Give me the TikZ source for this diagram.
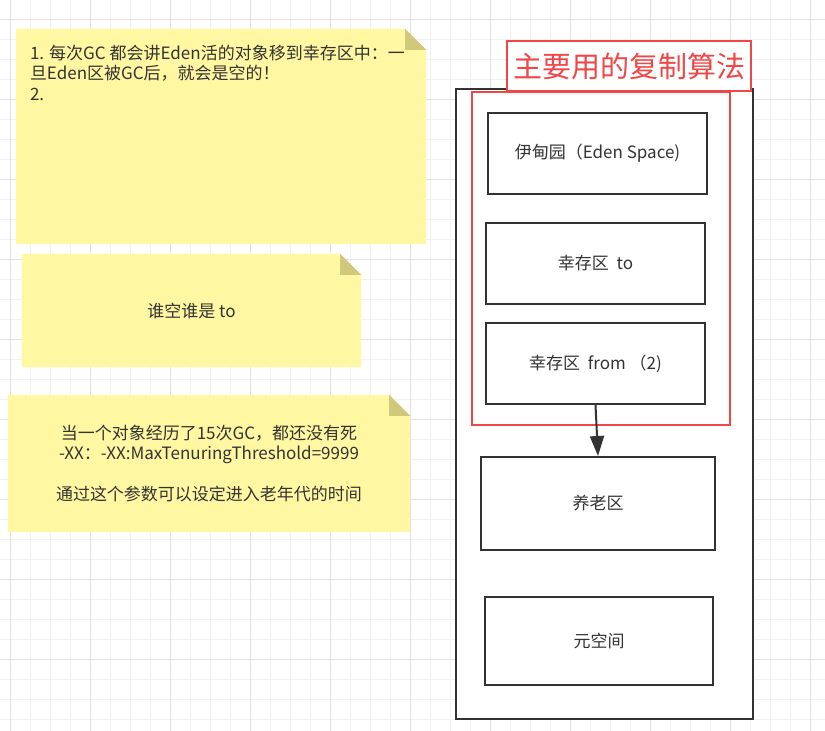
\documentclass[tikz,border=0pt]{standalone}
\usepackage{fontspec}
\setmainfont{Noto Sans CJK SC}
\usetikzlibrary{arrows.meta,backgrounds}
\definecolor{notefill}{HTML}{FFF7A1}
\definecolor{notefold}{HTML}{D0C97C}
\definecolor{ink}{HTML}{333333}
\definecolor{redline}{HTML}{F24646}
\definecolor{gridminor}{HTML}{F1F1F1}
\definecolor{gridmajor}{HTML}{E2E2E2}

\begin{document}
\begin{tikzpicture}[x=1pt,y=-1pt,text=ink,font=\fontsize{17}{20.5}\selectfont]
\useasboundingbox (0,0) rectangle (825,731);

% yellow notes (shape is filled on the background layer)
\begin{scope}[every node/.style={inner sep=0pt}]
\node (noteA) at (221,136.5) [minimum width=410pt,minimum height=215pt] {};
\node (noteB) at (191.5,310.5) [minimum width=339pt,minimum height=113pt] {谁空谁是 to};
\node (noteC) at (209,463.5) [minimum width=402pt,minimum height=137pt,align=center]
  {当一个对象经历了15次GC，都还没有死\\-XX：-XX:MaxTenuringThreshold=9999\\ \\通过这个参数可以设定进入老年代的时间};
\node (textA) at ([shift={(14pt,-16pt)}]noteA.north west) [anchor=north west,align=left]
  {1. 每次GC 都会讲Eden活的对象移到幸存区中：一\\旦Eden区被GC后，就会是空的！\\2.};
\end{scope}

% heap
\begin{scope}[every node/.style={rectangle,draw=ink,line width=2pt,fill=white}]
\node (heap) at (604.5,404) [minimum width=297pt,minimum height=630pt] {};
\node (copy) at (601,258.5) [draw=redline,fill=none,minimum width=258pt,minimum height=333pt] {};
\node (eden) at (597.5,153.5) [minimum width=219pt,minimum height=81pt] {伊甸园（Eden Space)};
\node (to) at (595.5,263.5) [minimum width=219pt,minimum height=81pt] {幸存区~~to};
\node (from) at (595.5,363.5) [minimum width=219pt,minimum height=81pt] {幸存区~~from~（2)};
\node (old) at (598,503.5) [minimum width=234pt,minimum height=93pt] {养老区};
\node (meta) at (599,641) [minimum width=228pt,minimum height=88pt] {元空间};
\node (title) at (629,66) [draw=redline,line width=1.5pt,text=redline,minimum width=244pt,minimum height=50pt,
  font=\fontsize{29}{34}\selectfont] {主要用的复制算法};
\end{scope}

\draw [-{Triangle[length=20pt,width=14pt]},ink,line width=2pt] (from.south) -- (old.north);

\begin{scope}[on background layer]
% grid
\foreach \gx in {10,30,...,810} \draw[gridminor] (\gx,0) -- (\gx,731);
\foreach \gy in {19,39,...,719} \draw[gridminor] (0,\gy) -- (825,\gy);
\foreach \gx in {10,90,...,810} \draw[gridmajor] (\gx,0) -- (\gx,731);
\foreach \gy in {19,99,...,699} \draw[gridmajor] (0,\gy) -- (825,\gy);
% note bodies with folded corner
\foreach \n in {noteA,noteB,noteC} {
  \fill[notefill] (\n.north west) -- ([xshift=-21pt]\n.north east) -- ([yshift=-21pt]\n.north east)
    -- (\n.south east) -- (\n.south west) -- cycle;
  \fill[notefold] ([xshift=-21pt]\n.north east) -- ([xshift=-21pt,yshift=-21pt]\n.north east)
    -- ([yshift=-21pt]\n.north east) -- cycle;
}
\end{scope}
\end{tikzpicture}
\end{document}
